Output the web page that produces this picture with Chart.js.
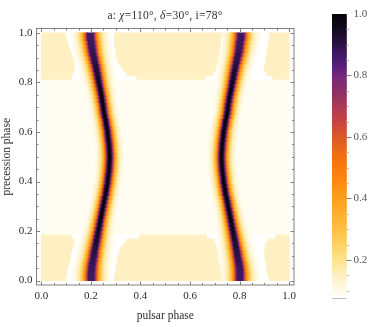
<!DOCTYPE html>
<html>
<head>
<meta charset="utf-8">
<script src="https://cdn.jsdelivr.net/npm/chart.js@4"></script>
<style>
  html, body { margin: 0; padding: 0; background: #fff; }
  #wrap { position: relative; width: 374px; height: 327px; overflow: hidden; }
  #wrap canvas { position: absolute; left: 0; top: 0; }
  #plotTitle {
    position: absolute; left: 0; width: 330px; top: 9px; text-align: center;
    font: 11.5px "Liberation Serif", serif; letter-spacing: 0.25px; color: #333; white-space: pre;
  }
</style>
</head>
<body>
<div id="wrap">
  <canvas id="map" width="374" height="327"></canvas>
  <canvas id="scaleBar" width="374" height="327"></canvas>
  <div id="plotTitle">a: <i>χ</i>=110°, <i>δ</i>=30°, i=78°</div>
</div>
<script>
// axis ticks
const phaseTicks = [0, 0.2, 0.4, 0.6, 0.8, 1];
const phaseMinor = [0.05, 0.1, 0.15, 0.25, 0.3, 0.35, 0.45, 0.5, 0.55, 0.65, 0.7, 0.75, 0.85, 0.9, 0.95];
const barTicks = [0.2, 0.4, 0.6, 0.8, 1];
const barMinor = [0.1, 0.15, 0.25, 0.3, 0.35, 0.45, 0.5, 0.55, 0.65, 0.7, 0.75, 0.85, 0.9, 0.95];

// ridge centre (pulsar phase) for each of the 64 precession rows, bottom to top
const ridgeLeft = [.203,.203,.204,.205,.207,.210,.213,.215,.218,.221,.224,.227,.230,.233,.236,.239,
  .242,.245,.248,.251,.254,.257,.261,.263,.266,.2685,.270,.272,.274,.275,.276,.277,
  .277,.276,.275,.274,.272,.270,.2685,.266,.263,.261,.257,.254,.252,.250,.247,.245,
  .242,.239,.236,.233,.230,.227,.224,.221,.217,.214,.210,.207,.205,.203,.200,.199];
const ridgeRight = [.803,.803,.802,.801,.799,.796,.793,.791,.788,.785,.782,.779,.776,.773,.770,.767,
  .764,.761,.758,.755,.752,.749,.745,.743,.740,.7375,.736,.734,.732,.731,.730,.729,
  .729,.730,.731,.732,.734,.736,.7375,.740,.743,.745,.749,.752,.754,.756,.759,.761,
  .764,.767,.770,.773,.776,.779,.782,.785,.789,.792,.796,.799,.801,.803,.806,.807];
// ridge peak and relative width per row: lower and wider towards the ends
const ridgePeak = [.87,.87,.88,.88,.89,.90,.90,.91,.92,.93,.94,.95,.96,.97,.98,.99,
  1,1,1,1,1,1,1,1,1,1,1,1,1,1,1,1,
  1,1,1,1,1,1,1,1,1,1,1,1,1,1,1,1,
  .99,.98,.97,.96,.95,.94,.93,.92,.91,.90,.90,.89,.88,.88,.87,.87];
const ridgeWidth = [1.3,1.3,1.28,1.26,1.24,1.22,1.2,1.18,1.16,1.14,1.12,1.1,1.08,1.06,1.05,1.04,
  1.03,1.02,1.01,1,1,1,1,1,1,1,1,1,1,1,1,1,
  1,1,1,1,1,1,1,1,1,1,1,1,1,1.01,1.02,1.03,
  1.04,1.05,1.06,1.08,1.1,1.12,1.14,1.16,1.18,1.2,1.22,1.24,1.26,1.28,1.3,1.3];
// value against distance from the ridge centre, one entry per map column
const ridgeProfile = [1, .97, .84, .64, .47, .35, .27, .21, .17, .14, .115, .10, .09, .08, .076];

// pale plateau edges, bottom rows 0-11
const lowEdgeA = [.102,.104,.106,.110,.114,.118,.122,.126,.130,.133,.134,.125];
const lowEdgeB = [.296,.297,.298,.300,.303,.307,.311,.316,.322,.330,.343,.395];
const lowEdgeC = [.729,.728,.727,.725,.722,.719,.716,.713,.710,.706,.698,.670];
const lowEdgeD = [.920,.916,.912,.908,.905,.903,.902,.902,.903,.906,.915,.945];
// same for top rows 52-63
const highEdgeA = [.125,.132,.134,.134,.133,.131,.126,.120,.114,.109,.105,.102];
const highEdgeB = [.385,.345,.328,.318,.310,.304,.301,.299,.297,.296,.295,.294];
const highEdgeC = [.665,.695,.705,.709,.713,.717,.719,.721,.723,.725,.727,.729];
const highEdgeD = [.935,.908,.902,.902,.904,.907,.910,.912,.915,.917,.919,.920];

const plateauValue = 0.15;
const gapValue = 0.076;
const floorValue = 0.09;

// colour scale
const scaleLevels = [.076, .1, .15, .2, .25, .3, .35, .4, .45, .5, .55, .6, .65, .7, .75, .8, .83, .87, .92, .96, 1];
const scaleColours = ['#ffffff', '#fffbe8', '#fff0c4', '#ffe38f', '#ffd265', '#ffc044', '#feb02e', '#fea01e', '#fd8c12', '#fb7c0c',
  '#ee6c15', '#dc5a28', '#c8443f', '#ad3a55', '#8c3068', '#742a7a', '#5c1f7f', '#3f1862', '#241038', '#110a1a', '#050308'];

function hexParts(h) {
  return [parseInt(h.slice(1, 3), 16), parseInt(h.slice(3, 5), 16), parseInt(h.slice(5, 7), 16)];
}

function colourFor(v) {
  let i = 0;
  while (i < scaleLevels.length - 2 && v > scaleLevels[i + 1]) i++;
  const t = Math.max(0, Math.min(1, (v - scaleLevels[i]) / (scaleLevels[i + 1] - scaleLevels[i])));
  const a = hexParts(scaleColours[i]);
  const b = hexParts(scaleColours[i + 1]);
  return `rgb(${a.map((p, k) => Math.round(p + (b[k] - p) * t)).join(',')})`;
}

// Build map cells, merging runs of the same colour in a row
const rowCount = ridgeLeft.length;
const colCount = 200;
const cells = [];
const cellColours = [];

function ridgeValue(phase, centre, row) {
  const pos = Math.abs(phase - centre) * colCount / ridgeWidth[row];
  const idx = Math.floor(pos);
  if (idx >= ridgeProfile.length - 1) return 0;
  const v = ridgeProfile[idx] + (ridgeProfile[idx + 1] - ridgeProfile[idx]) * (pos - idx);
  return Math.min(v, ridgePeak[row]);
}

function plateauEdges(row) {
  if (row < lowEdgeA.length) return [lowEdgeA[row], lowEdgeB[row], lowEdgeC[row], lowEdgeD[row]];
  const top = row - (rowCount - highEdgeA.length);
  if (top >= 0) return [highEdgeA[top], highEdgeB[top], highEdgeC[top], highEdgeD[top]];
  return null;
}

for (let row = 0; row < rowCount; row++) {
  const y = (row + 0.5) / rowCount;
  const edges = plateauEdges(row);
  let runStart = 0;
  let runColour = null;
  for (let col = 0; col < colCount; col++) {
    const phase = (col + 0.5) / colCount;
    let v = edges ? gapValue : floorValue;
    if (edges && (phase < edges[0] || (phase > edges[1] && phase < edges[2]) || phase > edges[3])) v = plateauValue;
    else v = Math.max(v, ridgeValue(phase, ridgeLeft[row], row), ridgeValue(phase, ridgeRight[row], row));
    const c = colourFor(v);
    if (c !== runColour) {
      if (runColour) { cells.push({ x: [runStart / colCount, col / colCount], y }); cellColours.push(runColour); }
      runStart = col;
      runColour = c;
    }
  }
  cells.push({ x: [runStart / colCount, 1], y });
  cellColours.push(runColour);
}

// Frame with inward ticks, all four sides
const frameTicks = {
  id: 'frameTicks',
  afterDraw(chart) {
    const { ctx, chartArea: a, scales: { x, y } } = chart;
    ctx.save();
    ctx.strokeStyle = '#808080';
    ctx.lineWidth = 1;
    ctx.strokeRect(a.left, a.top, a.right - a.left, a.bottom - a.top);
    const mark = (len, list) => {
      ctx.beginPath();
      list.forEach(t => {
        const px = Math.round(x.getPixelForValue(t)) + 0.5;
        const py = Math.round(y.getPixelForValue(t)) + 0.5;
        ctx.moveTo(px, a.bottom); ctx.lineTo(px, a.bottom - len);
        ctx.moveTo(px, a.top); ctx.lineTo(px, a.top + len);
        ctx.moveTo(a.left, py); ctx.lineTo(a.left + len, py);
        ctx.moveTo(a.right, py); ctx.lineTo(a.right - len, py);
      });
      ctx.stroke();
    };
    mark(3.5, phaseTicks);
    mark(2, phaseMinor);
    ctx.restore();
  }
};

const tickFont = { family: '"Liberation Serif", serif', size: 11 };
const titleFont = { family: '"Liberation Serif", serif', size: 11.5 };

new Chart(document.getElementById('map'), {
  type: 'bar',
  data: {
    datasets: [{
      data: cells,
      backgroundColor: cellColours,
      borderWidth: 0,
      grouped: false,
      barPercentage: 1,
      categoryPercentage: 1,
      inflateAmount: 0.4
    }]
  },
  options: {
    indexAxis: 'y',
    responsive: false,
    animation: false,
    events: [],
    layout: { padding: { left: 0, top: 28.5, right: 80, bottom: 4 } },
    plugins: { legend: { display: false }, title: { display: false }, tooltip: { enabled: false } },
    scales: {
      x: {
        type: 'linear', min: -0.02, max: 1.02,
        afterBuildTicks: s => { s.ticks = phaseTicks.map(value => ({ value })); },
        afterFit: s => { s.height = 38; },
        grid: { display: false, drawTicks: false },
        border: { display: false },
        ticks: { font: tickFont, color: '#2b2b2b', padding: 5, maxRotation: 0, autoSkip: false, callback: v => v.toFixed(1) },
        title: { display: true, text: 'pulsar phase', font: titleFont, color: '#2b2b2b', padding: { top: 5, bottom: 0 } }
      },
      y: {
        type: 'linear', min: -0.018, max: 1.018, offset: false,
        afterBuildTicks: s => { s.ticks = phaseTicks.map(value => ({ value })); },
        afterFit: s => { s.width = 36.5; },
        grid: { display: false, drawTicks: false, offset: false },
        border: { display: false },
        ticks: { font: tickFont, color: '#2b2b2b', padding: 4, autoSkip: false, callback: v => v.toFixed(1) },
        title: { display: true, text: 'precession phase', font: titleFont, color: '#2b2b2b', padding: { top: 0, bottom: 0 } }
      }
    }
  },
  plugins: [frameTicks]
});

// Colour bar
const barBottom = scaleLevels[0];
const barStrips = [];
const barColours = [];
for (let v = barBottom + 0.00125; v < 1; v += 0.0025) {
  barStrips.push({ x: [0, 1], y: v });
  barColours.push(colourFor(v));
}

const barTickMarks = {
  id: 'barTickMarks',
  afterDraw(chart) {
    const { ctx, chartArea: a, scales: { y } } = chart;
    ctx.save();
    ctx.lineWidth = 1;
    ctx.strokeStyle = '#bdbdbd';
    ctx.beginPath();
    ctx.moveTo(a.left, a.bottom + 0.5); ctx.lineTo(a.right, a.bottom + 0.5);
    barMinor.forEach(t => {
      const py = Math.round(y.getPixelForValue(t)) + 0.5;
      ctx.moveTo(a.right, py); ctx.lineTo(a.right + 2.5, py);
    });
    ctx.stroke();
    ctx.strokeStyle = '#808080';
    ctx.beginPath();
    barTicks.slice(0, -1).forEach(t => {
      const py = Math.round(y.getPixelForValue(t)) + 0.5;
      ctx.moveTo(a.right, py); ctx.lineTo(a.right + 5, py);
    });
    ctx.stroke();
    ctx.restore();
  }
};

new Chart(document.getElementById('scaleBar'), {
  type: 'bar',
  data: {
    datasets: [{
      data: barStrips,
      backgroundColor: barColours,
      borderWidth: 0,
      grouped: false,
      barPercentage: 1,
      categoryPercentage: 1,
      inflateAmount: 0.6
    }]
  },
  options: {
    indexAxis: 'y',
    responsive: false,
    animation: false,
    events: [],
    layout: { padding: { left: 332, top: 14, right: 0, bottom: 29 } },
    plugins: { legend: { display: false }, title: { display: false }, tooltip: { enabled: false } },
    scales: {
      x: { type: 'linear', min: 0, max: 1, display: false },
      y: {
        type: 'linear', position: 'right', min: barBottom, max: 1, offset: false,
        afterBuildTicks: s => { s.ticks = barTicks.map(value => ({ value })); },
        afterFit: s => { s.width = 27.5; },
        grid: { display: false, drawTicks: false, offset: false },
        border: { display: false },
        ticks: { font: tickFont, color: '#555', padding: 7, autoSkip: false, callback: v => v.toFixed(1) }
      }
    }
  },
  plugins: [barTickMarks]
});
</script>
</body>
</html>
